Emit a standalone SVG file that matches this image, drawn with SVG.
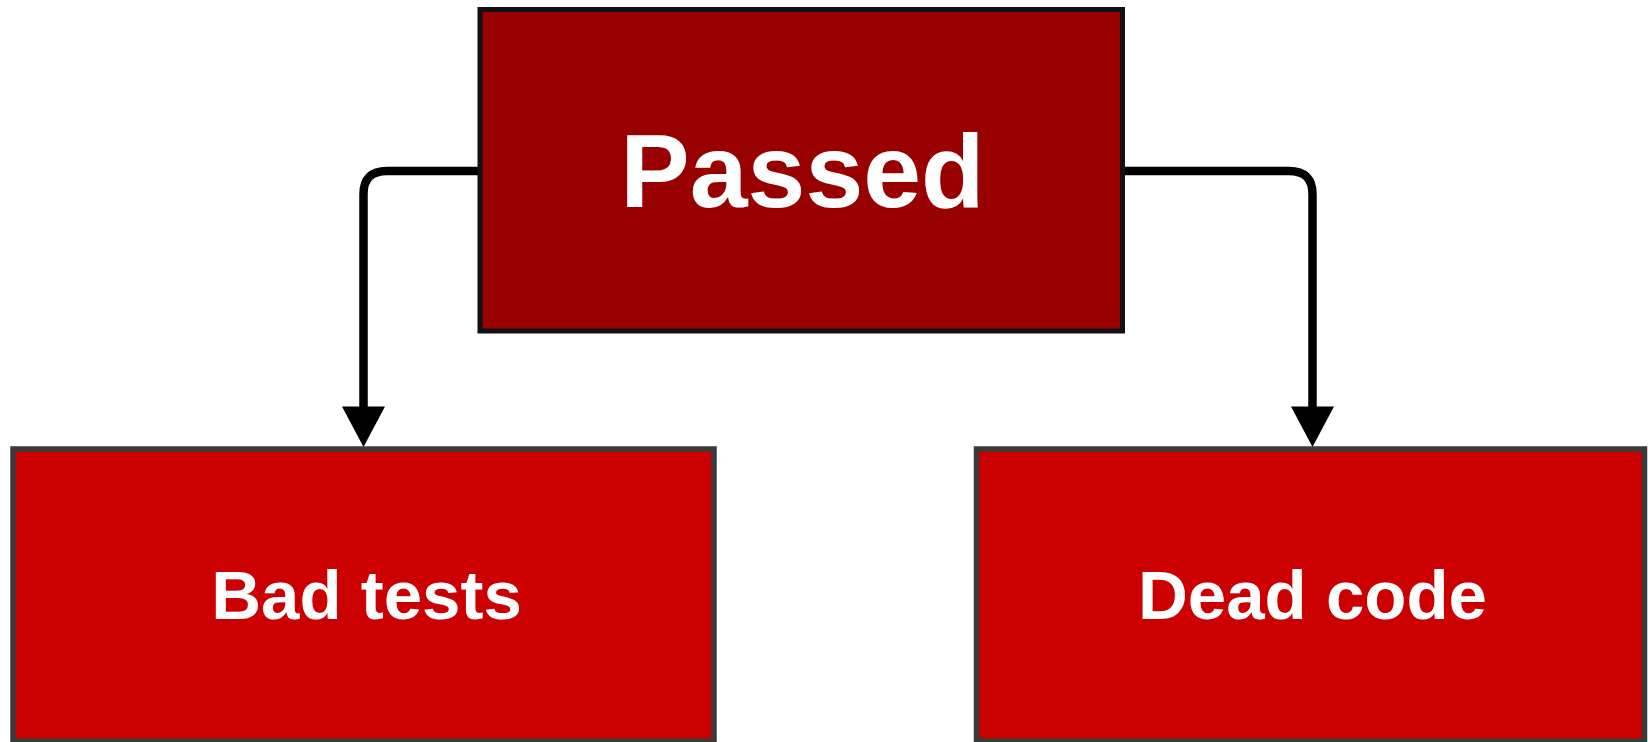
<svg xmlns="http://www.w3.org/2000/svg" width="1648" height="742" viewBox="0 0 1648 742">
<style>
.top{fill:#990000;stroke:#111;stroke-width:5}
.leaf{fill:#cc0000;stroke:#3a3a3a;stroke-width:5.5}
.lbl{font-family:"Liberation Sans",Arial,sans-serif;font-weight:bold;fill:#fff;text-anchor:middle}
.edge{fill:none;stroke:#000;stroke-width:8.5}
.head{fill:#000}
</style>
<rect width="1648" height="742" fill="#fff"/>
<g id="connectors">
<path class="edge" d="M480,171 H387 Q363.5,171 363.5,194 V410"/>
<polygon class="head" points="342,406.5 385,406.5 363.5,447"/>
<path class="edge" d="M1122.5,171 H1289 Q1312.5,171 1312.5,194 V410"/>
<polygon class="head" points="1291,406.5 1334,406.5 1312.5,447"/>
</g>
<g id="passed">
<rect class="top" x="480" y="9.5" width="642.5" height="321.5"/>
<text class="lbl" x="802.5" y="207" font-size="104">Passed</text>
</g>
<g id="bad-tests">
<rect class="leaf" x="13" y="449" width="701" height="292"/>
<text class="lbl" x="366.5" y="618.5" font-size="69">Bad tests</text>
</g>
<g id="dead-code">
<rect class="leaf" x="976.5" y="449" width="668" height="292"/>
<text class="lbl" x="1312.5" y="618.5" font-size="69">Dead code</text>
</g>
</svg>
